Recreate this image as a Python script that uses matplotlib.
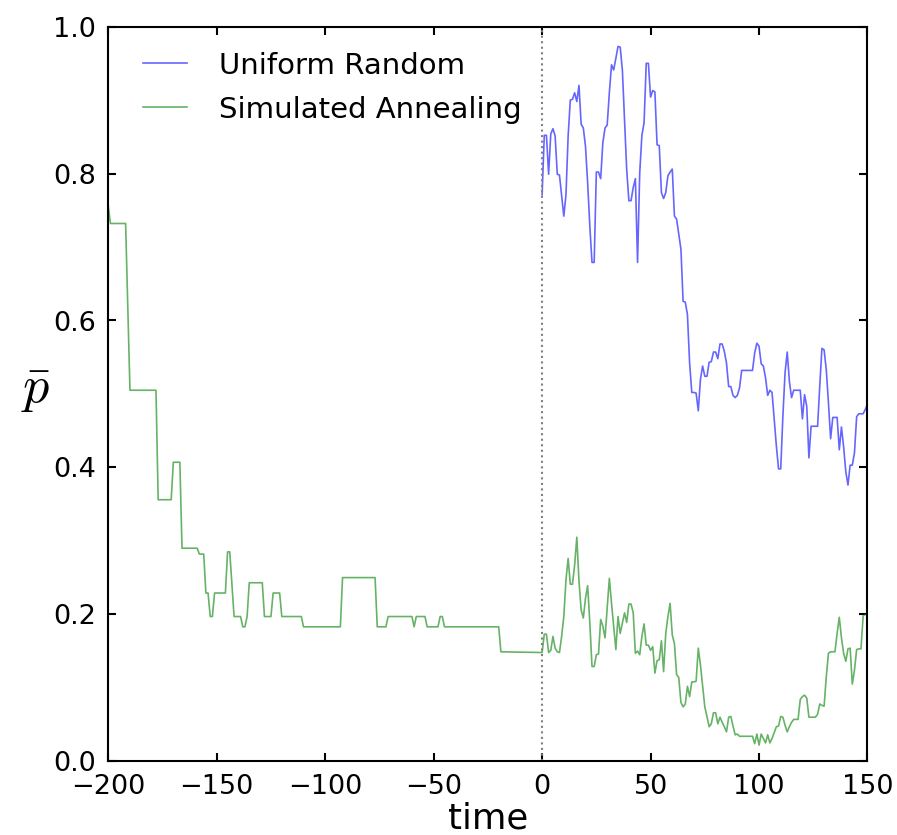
import numpy as np
import matplotlib
matplotlib.use('Agg')
import matplotlib.pyplot as plt

plt.rcParams['mathtext.fontset'] = 'cm'

# Uniform Random (starts at t = 0)
t_uniform = [0, 1, 2, 3, 4, 5, 6, 7, 8, 10, 11, 12, 13, 14, 15, 16, 17, 18, 19, 20,
             21, 22, 23, 24, 25, 26, 27, 28, 29, 30, 31, 32, 33, 34, 35, 36, 37, 38, 39, 40,
             41, 42, 43, 44, 45, 46, 47, 48, 49, 50, 51, 52, 53, 54, 55, 56, 57, 58, 59, 60,
             61, 62, 63, 64, 65, 66, 67, 68, 69, 70, 71, 72, 73, 74, 75, 76, 77, 78, 79, 80,
             81, 82, 83, 84, 85, 86, 87, 88, 89, 90, 91, 92, 97, 98, 99, 100, 101, 102, 103, 104,
             105, 106, 107, 108, 109, 110, 111, 112, 113, 114, 115, 116, 119, 120, 121, 122, 123, 124, 127, 128,
             129, 130, 131, 132, 133, 134, 136, 137, 138, 139, 140, 141, 142, 143, 144, 145, 146, 148, 149, 150]
p_uniform = [0.771, 0.852, 0.852, 0.799, 0.854, 0.861, 0.851, 0.799, 0.798, 0.742, 0.771, 0.851, 0.900, 0.901, 0.910, 0.898, 0.920, 0.867, 0.862, 0.837,
             0.787, 0.728, 0.679, 0.679, 0.802, 0.802, 0.793, 0.842, 0.862, 0.866, 0.910, 0.948, 0.941, 0.957, 0.973, 0.972, 0.941, 0.873, 0.805, 0.763,
             0.763, 0.781, 0.793, 0.679, 0.801, 0.852, 0.869, 0.950, 0.950, 0.904, 0.913, 0.911, 0.839, 0.838, 0.774, 0.766, 0.774, 0.797, 0.802, 0.806,
             0.742, 0.738, 0.718, 0.697, 0.626, 0.625, 0.608, 0.542, 0.502, 0.502, 0.501, 0.477, 0.520, 0.538, 0.524, 0.524, 0.543, 0.544, 0.557, 0.557,
             0.548, 0.568, 0.568, 0.558, 0.542, 0.510, 0.510, 0.498, 0.495, 0.498, 0.508, 0.532, 0.532, 0.556, 0.569, 0.565, 0.541, 0.538, 0.522, 0.498,
             0.505, 0.502, 0.465, 0.429, 0.398, 0.398, 0.470, 0.529, 0.557, 0.517, 0.495, 0.505, 0.505, 0.466, 0.499, 0.483, 0.413, 0.456, 0.456, 0.511,
             0.562, 0.560, 0.533, 0.488, 0.439, 0.468, 0.468, 0.424, 0.455, 0.428, 0.394, 0.376, 0.403, 0.403, 0.420, 0.469, 0.473, 0.473, 0.479, 0.486]

# Simulated Annealing, before t = 0 (piecewise flat)
t_sa_pre = [-200, -199, -192, -190, -178, -177, -171, -170, -167, -166, -159, -158, -156, -155, -154, -153, -152, -151,
            -146, -145, -144, -142, -139, -138, -137, -136, -135, -129, -128, -125, -124, -121, -120,
            -111, -110, -93, -92, -77, -76, -72, -71, -60, -59, -58, -54, -53, -48, -47, -46, -45, -20, -19]
p_sa_pre = [0.756, 0.732, 0.732, 0.505, 0.505, 0.356, 0.356, 0.407, 0.407, 0.290, 0.290, 0.282, 0.282, 0.229, 0.229, 0.197, 0.197, 0.229,
            0.229, 0.285, 0.285, 0.197, 0.197, 0.183, 0.183, 0.197, 0.243, 0.243, 0.197, 0.197, 0.229, 0.229, 0.197,
            0.197, 0.183, 0.183, 0.250, 0.250, 0.183, 0.183, 0.197, 0.197, 0.183, 0.197, 0.197, 0.183, 0.183, 0.197, 0.197, 0.183, 0.183, 0.149]

# Simulated Annealing, from t = 0
t_sa_post = list(range(0, 93)) + [97, 98, 99, 100, 101, 102, 103, 104, 105, 106, 107, 108, 109, 110, 111, 112, 113, 114, 115, 116,
                                   118, 119, 120, 121, 122, 123, 126, 127, 128, 129, 130, 131, 132, 133, 134, 135, 136, 137, 138, 139,
                                   140, 141, 142, 143, 144, 145, 146, 147, 148, 150]
p_sa_post = [0.148, 0.173, 0.173, 0.148, 0.151, 0.170, 0.154, 0.149, 0.148, 0.170, 0.197, 0.247, 0.276, 0.241, 0.241, 0.267, 0.305, 0.245, 0.206, 0.195,
             0.222, 0.239, 0.188, 0.129, 0.129, 0.145, 0.146, 0.193, 0.184, 0.168, 0.208, 0.249, 0.215, 0.183, 0.152, 0.197, 0.174, 0.188, 0.202, 0.189,
             0.214, 0.214, 0.202, 0.147, 0.150, 0.145, 0.170, 0.187, 0.158, 0.158, 0.151, 0.156, 0.120, 0.137, 0.138, 0.164, 0.122, 0.174, 0.197, 0.215,
             0.172, 0.160, 0.118, 0.114, 0.080, 0.074, 0.078, 0.102, 0.088, 0.108, 0.108, 0.109, 0.154, 0.131, 0.102, 0.074, 0.061, 0.047, 0.051, 0.066,
             0.066, 0.051, 0.060, 0.053, 0.047, 0.040, 0.060, 0.061, 0.048, 0.036, 0.037, 0.034, 0.034,
             0.034, 0.024, 0.037, 0.022, 0.037, 0.031, 0.025, 0.036, 0.025, 0.031, 0.039, 0.047, 0.048, 0.061, 0.060, 0.049, 0.040, 0.047, 0.053, 0.057,
             0.057, 0.084, 0.088, 0.090, 0.086, 0.060, 0.060, 0.064, 0.078, 0.076, 0.075, 0.115, 0.147, 0.149, 0.149, 0.149, 0.174, 0.196, 0.168, 0.147,
             0.136, 0.153, 0.154, 0.105, 0.124, 0.152, 0.153, 0.153, 0.198, 0.202]

t_sa = t_sa_pre + t_sa_post
p_sa = p_sa_pre + p_sa_post

x_ticks = [-200, -150, -100, -50, 0, 50, 100, 150]
y_ticks = [0.0, 0.2, 0.4, 0.6, 0.8, 1.0]


def main():
    fig = plt.figure(figsize=(5.98, 5.567), dpi=150)
    ax = fig.add_axes([0.1207, 0.0883, 0.8464, 0.8798])

    ax.plot(t_uniform, p_uniform, color='b', alpha=0.6, lw=0.8, label='Uniform Random')
    ax.plot(t_sa, p_sa, color='g', alpha=0.6, lw=0.8, label='Simulated Annealing')
    ax.axvline(0, color='gray', ls=':', lw=1.0)

    ax.set_xlim(-200, 150)
    ax.set_ylim(0, 1)
    ax.set_xticks(x_ticks)
    ax.set_yticks(y_ticks)
    ax.set_yticklabels(['%.1f' % v for v in y_ticks])
    ax.tick_params(direction='in', top=True, right=True, length=4, width=1,
                   labelsize=13, pad=6)
    for s in ax.spines.values():
        s.set_linewidth(1.0)

    ax.set_xlabel('time', fontsize=17, labelpad=1)
    ax.set_ylabel(r'$\bar{p}$', fontsize=25, rotation=0, ha='center', va='center')
    ax.yaxis.set_label_coords(-0.095, 0.505)

    ax.legend(loc='upper left', bbox_to_anchor=(0.0, 1.0136), frameon=False,
              fontsize=14, handlelength=1.5, handletextpad=1.1,
              labelspacing=0.55, borderaxespad=0.8)

    fig.savefig('out.png', dpi=150)


if __name__ == '__main__':
    main()
